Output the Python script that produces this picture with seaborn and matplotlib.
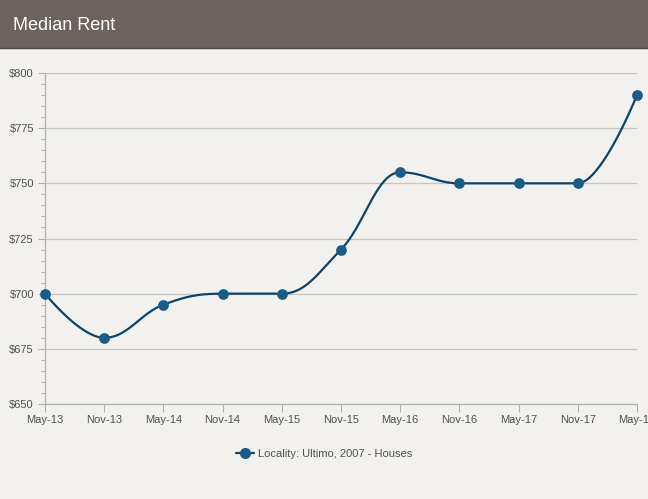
import numpy as np
import pandas as pd
import matplotlib
matplotlib.use("Agg")
import matplotlib.pyplot as plt
from matplotlib.patches import Rectangle
from matplotlib.lines import Line2D
from matplotlib.ticker import MultipleLocator, FuncFormatter
import seaborn as sns

periods = ["May-13", "Nov-13", "May-14", "Nov-14", "May-15", "Nov-15",
           "May-16", "Nov-16", "May-17", "Nov-17", "May-18"]
rent = [700, 680, 695, 700, 700, 720, 755, 750, 750, 750, 790]
series_name = "Locality: Ultimo, 2007 - Houses"

sns.set_theme(style="white")
plt.rcParams["font.family"] = ["Liberation Sans", "DejaVu Sans"]

BG = "#f2f1ee"
LINE = "#0d4468"
MARK = "#175d8a"
TXT = "#505050"

df = pd.DataFrame({"x": np.arange(len(periods)), "rent": rent, "series": series_name})


def spline(xs, ys, smoothing=1.5, n=40):
    xs = np.asarray(xs, float)
    ys = np.asarray(ys, float)
    m = len(xs)
    lc = [None] * m
    rc = [None] * m
    for i in range(m):
        px, py = xs[i], ys[i]
        if i == 0 or i == m - 1:
            lc[i] = (px, py)
            rc[i] = (px, py)
            continue
        lx, ly = xs[i - 1], ys[i - 1]
        nx, ny = xs[i + 1], ys[i + 1]
        d = smoothing + 1
        lcx = (smoothing * px + lx) / d
        lcy = (smoothing * py + ly) / d
        rcx = (smoothing * px + nx) / d
        rcy = (smoothing * py + ny) / d
        if rcx != lcx:
            corr = ((rcy - lcy) * (rcx - px)) / (rcx - lcx) + py - rcy
            lcy += corr
            rcy += corr
        if lcy > ly and lcy > py:
            lcy = max(ly, py); rcy = 2 * py - lcy
        elif lcy < ly and lcy < py:
            lcy = min(ly, py); rcy = 2 * py - lcy
        if rcy > ny and rcy > py:
            rcy = max(ny, py); lcy = 2 * py - rcy
        elif rcy < ny and rcy < py:
            rcy = min(ny, py); lcy = 2 * py - rcy
        lc[i] = (lcx, lcy)
        rc[i] = (rcx, rcy)
    outx, outy = [xs[0]], [ys[0]]
    t = np.linspace(0, 1, n)[1:]
    for i in range(1, m):
        p0 = np.array([xs[i - 1], ys[i - 1]])
        p1 = np.array(rc[i - 1])
        p2 = np.array(lc[i])
        p3 = np.array([xs[i], ys[i]])
        b = ((1 - t) ** 3)[:, None] * p0 + (3 * (1 - t) ** 2 * t)[:, None] * p1 \
            + (3 * (1 - t) * t ** 2)[:, None] * p2 + (t ** 3)[:, None] * p3
        outx.extend(b[:, 0]); outy.extend(b[:, 1])
    return np.array(outx), np.array(outy)


fig = plt.figure(figsize=(6.48, 4.99), dpi=100, facecolor=BG)
fig.patches.append(Rectangle((0, 1 - 48 / 499), 1, 48 / 499, transform=fig.transFigure,
                             facecolor="#6e625e", edgecolor="none", zorder=0))
fig.add_artist(Line2D([0, 1], [1 - 48 / 499] * 2, transform=fig.transFigure,
                      color="#4a403c", lw=1.0))
fig.text(13 / 648, 1 - 25 / 499, "Median Rent", color="white", fontsize=13,
         ha="left", va="center")

ax = fig.add_axes([45 / 648, 1 - 404 / 499, (637 - 45) / 648, (404 - 73) / 499])
ax.set_facecolor(BG)

cx, cy = spline(df["x"], df["rent"])
ax.plot(cx, cy, color=LINE, lw=1.6, zorder=3, clip_on=False)
sns.scatterplot(data=df, x="x", y="rent", ax=ax, color=MARK, s=60, edgecolor=MARK,
                linewidth=0, zorder=4, clip_on=False, legend=False)

ax.set_xlim(0, len(periods) - 1)
ax.set_ylim(650, 800)
ax.yaxis.set_major_locator(MultipleLocator(25))
ax.yaxis.set_minor_locator(MultipleLocator(5))
ax.yaxis.set_major_formatter(FuncFormatter(lambda v, p: f"${v:.0f}"))
ax.set_xticks(df["x"])
ax.set_xticklabels(periods)
ax.set_xlabel("")
ax.set_ylabel("")
ax.grid(axis="y", color="#c4c4c4", lw=0.9)
ax.grid(axis="x", visible=False)
for s in ["top", "right"]:
    ax.spines[s].set_visible(False)
ax.spines["left"].set_color("#b0b0b0")
ax.spines["bottom"].set_color("#b0b0b0")
ax.spines["left"].set_linewidth(0.9)
ax.spines["bottom"].set_linewidth(0.9)
ax.tick_params(axis="y", which="major", length=5, width=0.8, color="#b0b0b0",
               labelsize=8, labelcolor=TXT, pad=3, left=True)
ax.tick_params(axis="y", which="minor", length=3, width=0.7, color="#b8b8b8", left=True)
ax.tick_params(axis="x", which="major", length=6, width=0.8, color="#b0b0b0",
               labelsize=8, labelcolor=TXT, pad=2, bottom=True)

handle = Line2D([0], [0], color=LINE, lw=1.6, marker="o", markersize=7,
                markerfacecolor=MARK, markeredgecolor=MARK)
fig.legend([handle], [series_name], loc="center", bbox_to_anchor=(0.5, 1 - 454 / 499),
           frameon=False, fontsize=8, labelcolor=TXT, handlelength=1.6,
           handletextpad=0.4)

fig.savefig("out.png", dpi=100, facecolor=BG)
